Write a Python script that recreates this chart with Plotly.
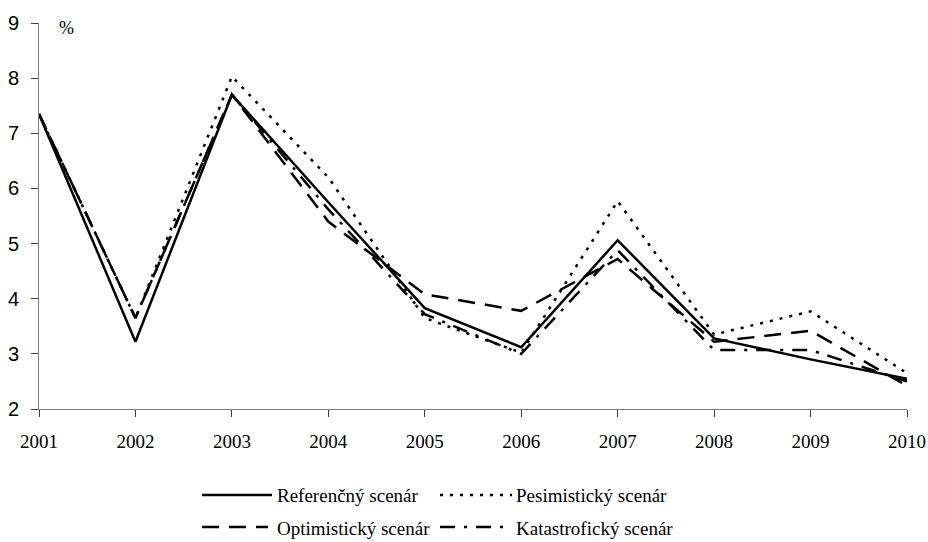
import plotly.graph_objects as go

# Yearly growth rate under four scenarios (%)
years = [2001, 2002, 2003, 2004, 2005, 2006, 2007, 2008, 2009, 2010]
referencny = [7.35, 3.22, 7.70, 5.75, 3.83, 3.12, 5.06, 3.28, 2.90, 2.55]
pesimisticky = [7.35, 3.65, 8.03, 6.20, 3.65, 3.02, 5.77, 3.35, 3.77, 2.65]
optimisticky = [7.35, 3.65, 7.70, 5.40, 4.08, 3.78, 4.72, 3.22, 3.42, 2.42]
katastroficky = [7.35, 3.65, 7.70, 5.62, 3.72, 3.00, 4.88, 3.07, 3.07, 2.50]

series_names = ["Referenčný scenár", "Pesimistický scenár",
                "Optimistický scenár", "Katastrofický scenár"]
y_ticks = [2, 3, 4, 5, 6, 7, 8, 9]

W, H = 928, 542
L, R, T, B = 39, 21, 23, 133
PW, PH = W - L - R, H - T - B

dashes = ["solid", "3px,7px", "17px,10px", "15px,9px,3px,9px"]
series = [referencny, pesimisticky, optimisticky, katastroficky]

fig = go.Figure()
for name, vals, dash in zip(series_names, series, dashes):
    fig.add_trace(go.Scatter(
        x=years, y=vals, mode="lines", name=name,
        line=dict(color="black", width=2.5, dash=dash),
        showlegend=False,
    ))


def px(x):
    return (x - L) / PW


def py(y):
    return (H - B - y) / PH


# Hand-drawn legend: two rows, two columns, long line samples
legend_items = [
    (202, 272, 495, 275, series_names[0], dashes[0]),
    (440, 512, 495, 514, series_names[1], dashes[1]),
    (202, 268, 527, 275, series_names[2], dashes[2]),
    (440, 512, 527, 514, series_names[3], dashes[3]),
]
for x0, x1, yy, tx, label, dash in legend_items:
    fig.add_shape(type="line", xref="paper", yref="paper",
                  x0=px(x0), x1=px(x1), y0=py(yy), y1=py(yy),
                  line=dict(color="black", width=2.5, dash=dash))
    fig.add_annotation(xref="paper", yref="paper", x=px(tx), y=py(yy + 1),
                       text=label, showarrow=False, xanchor="left",
                       yanchor="middle",
                       font=dict(family="Liberation Serif", size=19,
                                 color="black"))

fig.add_annotation(xref="paper", yref="paper", x=px(57), y=py(28),
                   text="%", showarrow=False, xanchor="left", yanchor="middle",
                   font=dict(family="Liberation Serif", size=18, color="black"))

fig.update_layout(
    width=W, height=H,
    margin=dict(l=L, r=R, t=T, b=B, autoexpand=False),
    paper_bgcolor="white", plot_bgcolor="white",
    xaxis=dict(
        range=[2001, 2010], tickmode="array", tickvals=years,
        ticktext=[str(y) for y in years],
        showgrid=False, zeroline=False,
        showline=True, linecolor="#808080", linewidth=1,
        ticks="outside", ticklen=7, tickcolor="#404040", tickwidth=1,
        ticklabelstandoff=8,
        tickfont=dict(family="Liberation Serif", size=19, color="black"),
    ),
    yaxis=dict(
        range=[2, 9], tickmode="array", tickvals=y_ticks,
        showgrid=False, zeroline=False,
        showline=True, linecolor="#808080", linewidth=1,
        ticks="outside", ticklen=7, tickcolor="#404040", tickwidth=1,
        ticklabelstandoff=8,
        tickfont=dict(family="Arial, Liberation Sans", size=20, color="black"),
    ),
)

fig.write_html("out.html")
